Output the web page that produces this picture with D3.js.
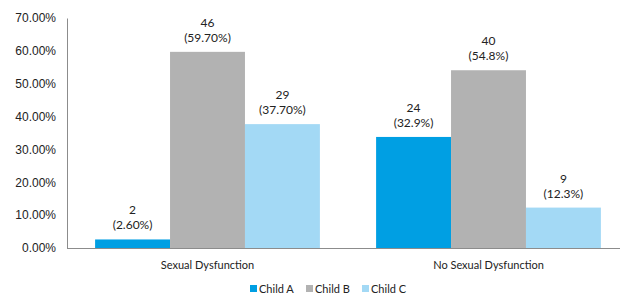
<!DOCTYPE html>
<html>
<head>
<meta charset="utf-8">
<script src="https://cdn.jsdelivr.net/npm/d3@7"></script>
<style>
  body { margin: 0; background: #fff; }
</style>
</head>
<body>
<div id="chart"></div>
<script>
// data
var categories = ["Sexual Dysfunction", "No Sexual Dysfunction"];
var seriesNames = ["Child A", "Child B", "Child C"];
var seriesColors = ["#009fe3", "#b2b2b2", "#a3d9f5"];
// bar heights (%) per category, in series order
var barValues = [[2.6, 59.7, 37.7], [33.8, 54.1, 12.3]];
var countLabels = [["2", "46", "29"], ["24", "40", "9"]];
var pctLabels = [["(2.60%)", "(59.70%)", "(37.70%)"], ["(32.9%)", "(54.8%)", "(12.3%)"]];
var yTicks = [0, 10, 20, 30, 40, 50, 60, 70];

var width = 620, height = 295;
var svg = d3.select("#chart").append("svg")
    .attr("width", width)
    .attr("height", height);

var y = d3.scaleLinear().domain([0, 70]).range([248, 18]);
var x0 = d3.scaleBand().domain(categories).range([67, 629])
    .paddingInner(0.2).paddingOuter(0.1);
var x1 = d3.scaleBand().domain(seriesNames).range([0, x0.bandwidth()]);

// y axis
var yAxis = d3.axisLeft(y).tickValues(yTicks).tickSize(0).tickPadding(11)
    .tickFormat(function (d) { return d.toFixed(2) + "%"; });
var gy = svg.append("g").attr("transform", "translate(67,0)").call(yAxis);
gy.select(".domain").attr("stroke", "#8c8c8c");
gy.selectAll("text")
    .style("font-family", "Liberation Sans, Arial, sans-serif")
    .style("font-size", "12px")
    .attr("fill", "#222");

// baseline
svg.append("line")
    .attr("x1", 67).attr("x2", width)
    .attr("y1", y(0) + 0.5).attr("y2", y(0) + 0.5)
    .attr("stroke", "#8c8c8c");

var groups = svg.selectAll(".grp")
    .data(categories)
    .enter()
    .append("g")
    .attr("class", "grp")
    .attr("transform", function (d) { return "translate(" + x0(d) + ",0)"; });

groups.each(function (cat, ci) {
    var g = d3.select(this);
    var rows = seriesNames.map(function (s, si) {
        return { s: s, v: barValues[ci][si], n: countLabels[ci][si], p: pctLabels[ci][si], c: seriesColors[si] };
    });
    g.selectAll("rect")
        .data(rows)
        .enter()
        .append("rect")
        .attr("x", function (d) { return x1(d.s); })
        .attr("y", function (d) { return y(d.v); })
        .attr("width", x1.bandwidth())
        .attr("height", function (d) { return y(0) - y(d.v); })
        .attr("fill", function (d) { return d.c; });

    var lbl = g.selectAll(".lbl")
        .data(rows)
        .enter()
        .append("text")
        .attr("class", "lbl")
        .attr("text-anchor", "middle")
        .style("font-family", "Lato, sans-serif")
        .style("font-size", "12px")
        .attr("fill", "#222");
    lbl.append("tspan")
        .attr("x", function (d) { return x1(d.s) + x1.bandwidth() / 2; })
        .attr("y", function (d) { return y(d.v) - 25; })
        .text(function (d) { return d.n; });
    lbl.append("tspan")
        .attr("x", function (d) { return x1(d.s) + x1.bandwidth() / 2; })
        .attr("y", function (d) { return y(d.v) - 10; })
        .text(function (d) { return d.p; });
});

// category labels
svg.selectAll(".cat")
    .data(categories)
    .enter()
    .append("text")
    .attr("class", "cat")
    .attr("x", function (d) { return x0(d) + x0.bandwidth() / 2; })
    .attr("y", 269)
    .attr("text-anchor", "middle")
    .style("font-family", "Lato, sans-serif")
    .style("font-size", "11px")
    .attr("fill", "#222")
    .text(function (d) { return d; });

// legend
var legendX = [250, 306, 362];
var leg = svg.selectAll(".leg")
    .data(seriesNames)
    .enter()
    .append("g")
    .attr("class", "leg")
    .attr("transform", function (d, i) { return "translate(" + legendX[i] + ",285)"; });
leg.append("rect")
    .attr("width", 7).attr("height", 7)
    .attr("fill", function (d, i) { return seriesColors[i]; });
leg.append("text")
    .attr("x", 9).attr("y", 7.5)
    .style("font-family", "Lato, sans-serif")
    .style("font-size", "11px")
    .attr("fill", "#222")
    .text(function (d) { return d; });
</script>
</body>
</html>
